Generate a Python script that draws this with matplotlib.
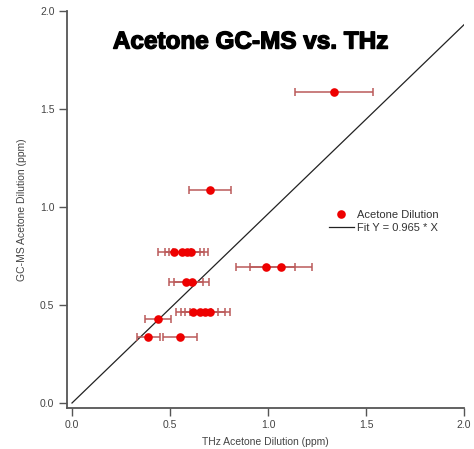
import matplotlib.pyplot as plt
import matplotlib.patheffects as pe
import numpy as np

# THz (x) vs GC-MS (y) acetone dilution, ppm
thz = [1.337, 0.704,
       0.522, 0.562, 0.585, 0.605,
       0.988, 1.067,
       0.582, 0.611,
       0.619, 0.652, 0.679, 0.704,
       0.44,
       0.389, 0.551]
gcms = [1.587, 1.087,
        0.77, 0.77, 0.77, 0.77,
        0.696, 0.696,
        0.619, 0.619,
        0.466, 0.466, 0.466, 0.466,
        0.427,
        0.335, 0.335]
thz_err = [0.2, 0.105,
           0.085, 0.09, 0.09, 0.09,
           0.15, 0.16,
           0.086, 0.09,
           0.09, 0.095, 0.1, 0.1,
           0.067,
           0.058, 0.085]
fit_slope = 0.965
fit_x = [0.0, 2.0]

plt.rcParams['font.family'] = ['Liberation Sans', 'DejaVu Sans']

fig = plt.figure(figsize=(4.74, 4.49), dpi=100)
ax = fig.add_axes([67/474, 41/449, (464-67)/474, (408-11)/449])

ax.errorbar(thz, gcms, xerr=thz_err, fmt='none', ecolor='#bb5a5a', elinewidth=1.1,
            capsize=3.2, capthick=1.1, zorder=2)
ax.plot(thz, gcms, linestyle='None', marker='o', ms=6.2, color='#ee0000',
        markeredgewidth=0, label='Acetone Dilution', zorder=3)
ax.plot(fit_x, [fit_slope*v for v in fit_x], color='#222222', lw=0.9,
        label='Fit Y = 0.965 * X', zorder=1)

ax.set_xlim(-0.0255, 2.0)
ax.set_ylim(-0.0255, 2.0)
ticks = [0.0, 0.5, 1.0, 1.5, 2.0]
ax.set_xticks(ticks)
ax.set_yticks(ticks)
ax.set_xticklabels([f"{t:.1f}" for t in ticks])
ax.set_yticklabels([f"{t:.1f}" for t in ticks])
for s in ['top', 'right']:
    ax.spines[s].set_visible(False)
for s in ['left', 'bottom']:
    ax.spines[s].set_color('#555555')
    ax.spines[s].set_linewidth(1.3)
ax.tick_params(direction='out', length=6, width=1, color='#555555',
               labelsize=7.5, labelcolor='#444444', pad=3)

ax.set_xlabel('THz Acetone Dilution (ppm)', fontsize=7.5, color='#444444', labelpad=5)
ax.set_ylabel('GC-MS Acetone Dilution (ppm)', fontsize=7.5, color='#444444', labelpad=9)

fig.text(250.5/474, 1 - 42/449, 'Acetone GC-MS vs. THz', ha='center', va='center',
         fontsize=17.5, fontweight='bold', color='black',
         path_effects=[pe.withStroke(linewidth=1.0, foreground='black')])

ax.legend(loc='center left', bbox_to_anchor=(0.635, 0.47), frameon=False,
          fontsize=8, handlelength=2.2, handletextpad=0.35, labelspacing=0.3,
          labelcolor='#333333')

fig.savefig('out.png', dpi=100)
